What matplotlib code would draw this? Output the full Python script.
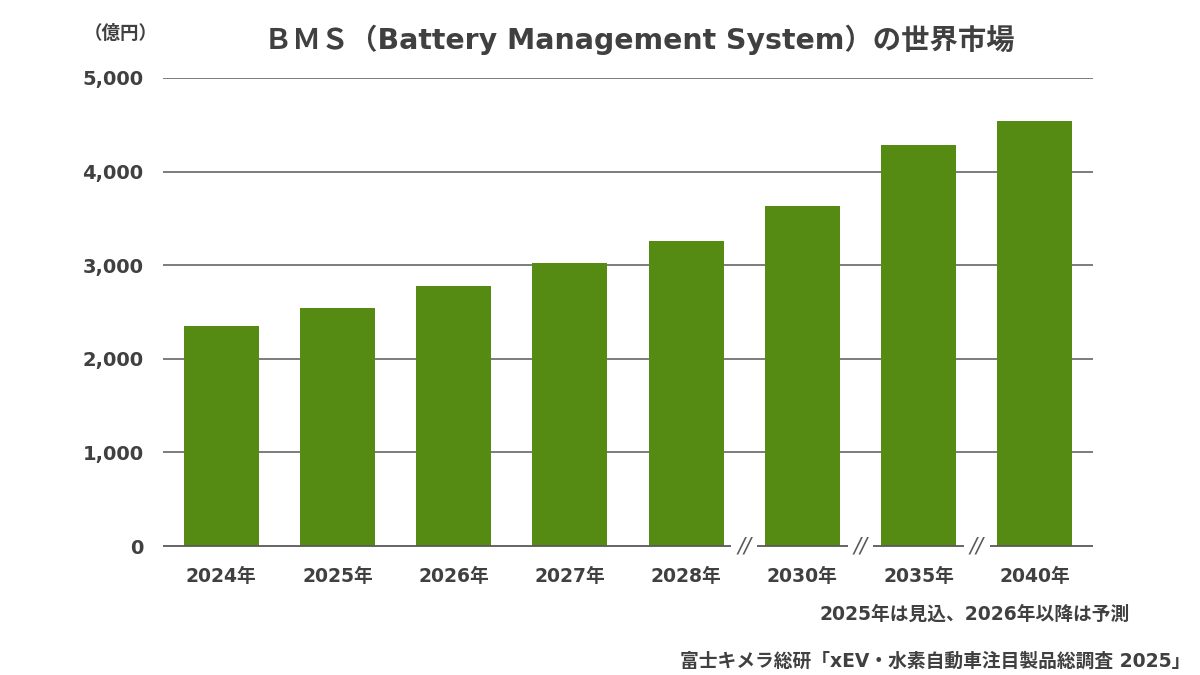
import matplotlib
matplotlib.use("Agg")
import matplotlib.pyplot as plt

plt.rcParams['font.family'] = ['DejaVu Sans', 'Noto Sans CJK JP']

categories = ["2024年", "2025年", "2026年", "2027年", "2028年", "2030年", "2035年", "2040年"]
values = [2350, 2540, 2780, 3020, 3260, 3630, 4280, 4540]
yticks = [0, 1000, 2000, 3000, 4000, 5000]
ytick_labels = ["0", "1,000", "2,000", "3,000", "4,000", "5,000"]
break_positions = [4.5, 5.5, 6.5]

title = "ＢＭＳ（Battery Management System）の世界市場"
unit = "（億円）"
note = "2025年は見込、2026年以降は予測"
source = "富士キメラ総研「xEV・水素自動車注目製品総調査 2025」"

green = "#558B12"
text_c = "#404040"
grid_c = "#595959"

fig = plt.figure(figsize=(12, 6.75), dpi=100)
ax = fig.add_axes([163/1200, 1-546/675, (1093-163)/1200, (546-78)/675])

x = list(range(len(categories)))
ax.bar(x, values, width=0.645, color=green, zorder=2)
ax.set_xlim(-0.5, len(categories) - 0.5)
ax.set_ylim(0, 5000)

for v in yticks[1:]:
    ax.axhline(v, color=grid_c, lw=1.1, zorder=1)

# baseline with breaks
gap = 0.11
segs = []
start = -0.5
for b in break_positions:
    segs.append((start, b - gap))
    start = b + gap
segs.append((start, len(categories) - 0.5))
for a, b in segs:
    ax.plot([a, b], [0, 0], color=grid_c, lw=1.3, zorder=3, clip_on=False, solid_capstyle='butt')
for b in break_positions:
    ax.text(b, 0, "//", ha='center', va='center', fontsize=15, color=grid_c,
            fontstyle='italic', zorder=4)

for s in ax.spines.values():
    s.set_visible(False)
ax.tick_params(length=0)
ax.set_yticks(yticks)
ax.set_yticklabels(ytick_labels, fontsize=14, fontweight='bold', color=text_c)
ax.tick_params(axis='y', pad=14)
ax.set_xticks(x)
ax.set_xticklabels(categories, fontsize=13.5, fontweight='bold', color=text_c)
ax.tick_params(axis='x', pad=15)

fig.text(639/1200, 1-40/675, title, ha='center', va='center', fontsize=20.4,
         fontweight='bold', color=text_c)
fig.text(121/1200, 1-34/675, unit, ha='center', va='center', fontsize=13.3,
         fontweight='bold', color=text_c)
fig.text(1130/1200, 1-614/675, note, ha='right', va='center', fontsize=13.5,
         fontweight='bold', color=text_c)
fig.text(1190/1200, 1-661/675, source, ha='right', va='center', fontsize=13.5,
         fontweight='bold', color=text_c)

fig.savefig("out.png", dpi=100)
